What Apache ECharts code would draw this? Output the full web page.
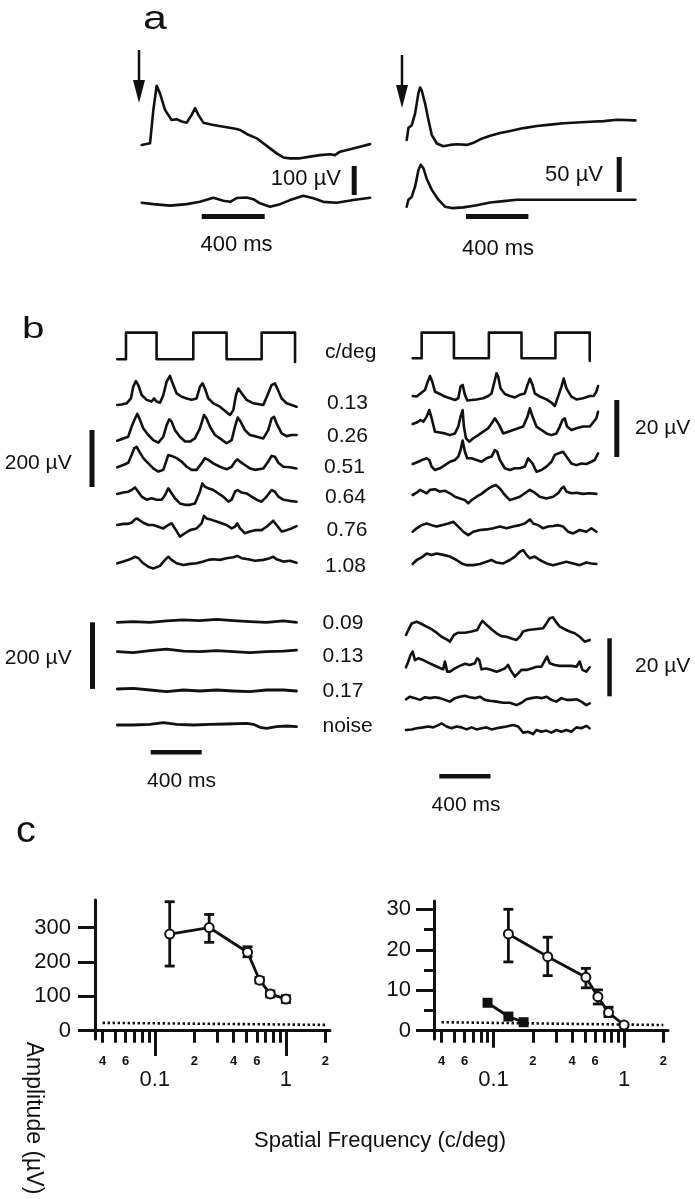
<!DOCTYPE html>
<html><head><meta charset="utf-8">
<script src="https://cdn.jsdelivr.net/npm/echarts@6/dist/echarts.min.js"></script>
<style>html,body{margin:0;padding:0;background:#fff}#c{width:695px;height:1199px}</style>
</head><body><div id="c"></div>
<script>
// ================= DATA (ms, µV) =================
// panel a: flash responses
const aLeftTop = [[0,0],[53,6],[74,121],[95,204],[116,178],[148,121],[190,86],[222,89],[254,81],[286,77],[317,104],[339,127],[360,104],[391,77],[455,69],[540,61],[603,55],[624,52],[667,38],[730,23],[794,-3],[857,-29],[899,-43],[942,-46],[1005,-46],[1069,-40],[1132,-35],[1196,-32],[1227,-35],[1259,-23],[1323,-15],[1386,-6],[1450,3]];
const aLeftBottom = [[0,0],[74,-5],[180,-10],[286,-5],[370,3],[455,17],[518,7],[561,3],[603,16],[667,18],[709,12],[751,-2],[815,-14],[878,-5],[942,9],[1026,24],[1090,15],[1153,3],[1238,0],[1344,9],[1450,17]];
const aRightTop = [[0,0],[11,17],[32,21],[54,38],[75,67],[86,75],[96,71],[118,52],[139,29],[161,7],[193,-5],[235,-9],[278,-7],[321,-6],[385,-7],[428,-4],[471,1],[535,6],[599,10],[663,13],[749,17],[835,20],[920,22],[1006,24],[1091,25],[1177,26],[1263,27],[1348,29],[1466,28]];
const aRightBottom = [[0,0],[11,10],[32,14],[54,29],[75,52],[90,60],[107,55],[128,40],[161,24],[203,10],[246,0],[289,-2],[364,-1],[449,2],[535,6],[621,8],[706,10],[792,10],[877,10],[1091,10],[1348,10],[1466,10]];

// panel b: stimulus (relative luminance) and pattern responses
const stimLeft = [[0,0],[68,0],[68,1],[308,1],[308,0],[596,0],[596,1],[857,1],[857,0],[1132,0],[1132,1],[1394,1],[1394,-0.1]];
const stimRight = [[0,0],[70,0],[70,1],[322,1],[322,0],[595,0],[595,1],[850,1],[850,0],[1115,0],[1115,1],[1383,1],[1383,-0.1]];

const bLeft013 = [[0,0],[34,2],[73,6],[107,23],[125,64],[146,84],[165,70],[191,35],[230,18],[269,12],[288,23],[308,12],[335,8],[361,35],[387,82],[413,102],[434,76],[465,41],[505,29],[544,23],[583,18],[622,23],[648,64],[669,76],[687,58],[714,23],[753,6],[805,-6],[884,-35],[910,-18],[931,35],[949,58],[975,41],[1014,18],[1067,6],[1145,0],[1184,41],[1210,70],[1236,76],[1255,58],[1289,23],[1328,6],[1367,0],[1406,-6]];
const bLeft026 = [[0,0],[47,8],[86,14],[112,49],[139,78],[157,94],[178,73],[204,43],[243,20],[282,2],[322,-7],[361,14],[387,55],[408,75],[426,67],[452,37],[491,14],[531,-3],[570,-3],[609,8],[648,43],[680,90],[700,78],[727,49],[766,20],[805,8],[857,-9],[897,2],[923,49],[944,81],[967,67],[1001,37],[1040,20],[1080,16],[1145,8],[1184,37],[1210,78],[1229,84],[1249,61],[1289,26],[1328,16],[1367,20],[1406,20]];
const bLeft051 = [[0,0],[47,8],[86,16],[112,43],[133,67],[152,72],[173,55],[204,32],[243,14],[282,-4],[322,-15],[361,-9],[387,26],[400,43],[426,40],[465,32],[505,20],[544,2],[583,-9],[622,-9],[661,14],[687,32],[714,26],[753,14],[805,2],[857,-7],[897,2],[923,20],[941,28],[962,20],[1001,8],[1040,-4],[1080,-9],[1145,-4],[1184,20],[1210,40],[1236,37],[1263,16],[1302,2],[1354,0],[1406,-4]];
const bLeft064 = [[0,0],[47,5],[86,8],[112,14],[139,23],[157,12],[191,-9],[230,-20],[269,-15],[308,-20],[348,-20],[374,-4],[400,20],[418,8],[452,-15],[491,-33],[531,-38],[570,-38],[609,-33],[648,8],[667,37],[687,26],[714,20],[753,14],[792,2],[831,-9],[871,-27],[897,-20],[923,8],[944,14],[975,5],[1014,2],[1053,-9],[1093,-20],[1132,-27],[1171,-9],[1210,14],[1236,8],[1263,-9],[1302,-20],[1354,-24],[1406,-27]];
const bLeft076 = [[0,0],[47,4],[86,4],[112,8],[139,20],[157,23],[178,15],[204,8],[243,0],[282,0],[322,-6],[361,-12],[400,0],[426,6],[452,-12],[491,-41],[531,-29],[570,-18],[622,-12],[661,6],[680,32],[700,23],[739,18],[779,12],[818,6],[857,0],[897,-12],[923,-6],[941,6],[962,-12],[1001,-29],[1040,-23],[1080,-18],[1132,-18],[1171,-6],[1202,6],[1223,15],[1249,0],[1289,-23],[1328,-18],[1367,-12],[1406,-4]];
const bLeft108 = [[0,0],[47,6],[99,14],[139,23],[165,18],[204,0],[243,-12],[282,-18],[335,-9],[374,12],[400,23],[426,12],[465,0],[518,-6],[570,-2],[622,0],[675,6],[714,12],[753,14],[805,12],[857,18],[910,21],[941,26],[975,18],[1027,14],[1080,9],[1145,12],[1197,18],[1223,23],[1249,14],[1302,6],[1354,9],[1406,2]];
const bLeftB009 = [[0,0],[125,2],[256,0],[387,4],[518,7],[648,5],[779,9],[910,5],[1040,2],[1171,0],[1302,4],[1406,0]];
const bLeftB013 = [[0,0],[125,-3],[256,3],[387,8],[518,2],[648,0],[779,3],[910,0],[1040,-3],[1171,0],[1302,2],[1406,5]];
const bLeftB017 = [[0,0],[125,2],[256,-3],[387,-8],[518,-3],[648,-6],[779,-3],[910,-6],[1040,-8],[1171,-3],[1302,-3],[1406,-6]];
const bLeftNoise = [[0,0],[125,0],[256,2],[361,7],[465,2],[596,0],[727,2],[857,3],[1014,5],[1067,2],[1119,-7],[1171,-10],[1249,-5],[1328,-3],[1406,-5]];

const bRight1 = [[0,0],[31,-0.2],[70,1.2],[96,2.1],[117,5.0],[135,7.0],[153,5.0],[174,1.5],[213,0.7],[252,-0.2],[291,-0.8],[330,-1.4],[356,-0.8],[374,3.3],[390,3.9],[408,0.4],[426,-1.6],[460,-1.4],[499,-1.2],[551,-0.8],[590,0],[616,0.9],[642,5.6],[655,8.0],[668,6.8],[686,2.7],[720,0.7],[759,0],[798,-0.5],[837,0.4],[876,0.9],[897,3.9],[915,6.1],[936,3.9],[954,0.9],[993,-0.2],[1045,-1.2],[1084,-2.3],[1110,-3.5],[1136,-0.2],[1162,3.3],[1180,6.1],[1201,2.7],[1240,-0.2],[1279,-1.2],[1331,-0.8],[1383,0],[1414,0],[1435,1.5],[1448,3.5]];
const bRight2 = [[0,0],[31,0.5],[62,1.4],[83,0.8],[109,2.6],[130,4.9],[148,2.0],[174,-2.7],[213,-3.0],[252,-3.3],[291,-3.9],[330,-3.3],[356,-0.9],[374,2.6],[390,4.9],[400,-0.9],[416,-5.0],[442,-6.2],[473,-5.0],[512,-3.9],[551,-2.7],[590,-1.5],[616,0.2],[642,2.0],[655,2.6],[676,-0.4],[707,-3.3],[746,-2.7],[785,-2.1],[824,-1.5],[863,-0.9],[897,2.6],[915,5.5],[936,2.6],[967,-0.9],[1006,-2.1],[1045,-3.3],[1084,-3.9],[1123,-3.3],[1149,-0.9],[1170,1.4],[1188,2.0],[1206,-0.9],[1240,-2.1],[1279,-1.5],[1331,-0.9],[1383,-0.9],[1414,0.8],[1435,2.0],[1448,4.3]];
const bRight3 = [[0,0],[44,0.8],[83,1.6],[109,2.0],[130,1.4],[148,-0.9],[174,-2.1],[213,-1.5],[252,-0.4],[291,0.8],[330,1.4],[356,2.6],[374,4.9],[390,8.2],[408,4.3],[426,2.0],[460,2.0],[499,1.4],[538,0.8],[577,2.0],[616,2.6],[642,4.9],[660,4.3],[681,1.4],[720,-1.5],[759,-2.1],[798,-1.5],[837,-1.5],[876,-0.9],[902,2.0],[915,2.6],[936,0.2],[967,-2.7],[1006,-2.1],[1045,-0.9],[1084,0.8],[1110,3.2],[1136,3.7],[1175,4.3],[1201,2.6],[1240,0.2],[1279,-0.4],[1318,0.2],[1357,0],[1396,0.8],[1422,1.4],[1448,3.7]];
const bRight4 = [[0,0],[31,0.8],[57,1.8],[83,1.2],[109,0.6],[135,1.8],[174,2.0],[213,1.2],[252,1.5],[291,0.6],[330,-0.6],[369,-1.2],[408,-1.8],[434,-2.9],[460,-1.8],[499,-0.6],[538,0.4],[577,1.8],[616,2.9],[650,3.5],[681,2.3],[720,0],[759,-1.8],[798,-1.2],[837,-0.6],[876,0.6],[915,1.8],[954,0.8],[993,-0.6],[1045,-1.2],[1097,-0.6],[1136,0.6],[1162,2.3],[1180,2.9],[1201,1.2],[1240,0.6],[1279,0.8],[1331,0.4],[1383,0.6],[1435,0.4]];
const bRight5 = [[0,0],[31,1.2],[70,2.3],[109,2.9],[148,2.3],[187,1.8],[226,2.3],[278,2.9],[317,3.5],[356,1.8],[395,0],[434,-1.2],[473,0],[525,0.6],[577,0.8],[629,1.2],[681,1.8],[733,1.2],[785,1.8],[837,2.3],[876,2.9],[915,4.3],[941,2.9],[980,2.3],[1019,1.2],[1058,1.8],[1097,2.0],[1136,2.3],[1175,1.8],[1214,0],[1253,-0.6],[1305,0.6],[1357,0],[1396,1.2],[1435,0]];
const bRight6 = [[0,0],[31,1.4],[70,2.3],[109,3.7],[148,3.2],[187,3.7],[239,3.2],[291,2.6],[343,1.4],[382,0.2],[421,-0.4],[473,-0.4],[525,0],[577,0.8],[616,1.4],[655,0.5],[707,0.2],[759,1.4],[798,2.6],[837,4.3],[863,4.9],[889,3.2],[915,2.0],[954,2.6],[993,1.4],[1045,0.2],[1097,-0.4],[1149,0.2],[1201,0.8],[1253,0.2],[1305,-0.4],[1357,0.5],[1396,0.2],[1435,0]];
const bRightB009 = [[0,0],[18,1.7],[44,4.0],[83,4.6],[122,3.8],[161,2.9],[200,2.0],[239,0.8],[278,-0.6],[317,-1.5],[343,-2.3],[374,0],[408,0.8],[460,0.8],[512,1.2],[556,1.7],[577,3.5],[598,4.9],[629,3.5],[668,2.0],[707,0.6],[746,-0.4],[785,-0.6],[824,-1.2],[863,-1.7],[889,-0.6],[915,1.2],[954,1.7],[1006,2.0],[1071,2.3],[1097,4.0],[1123,5.8],[1149,6.1],[1170,4.6],[1201,2.9],[1240,2.0],[1279,1.2],[1318,0.6],[1357,-0.6],[1396,-2.3],[1435,-1.7]];
const bRightB013 = [[0,0],[18,2.0],[36,4.3],[52,5.4],[70,2.5],[96,3.1],[135,2.5],[174,1.6],[213,0.8],[252,0],[291,-0.7],[304,2.0],[322,-1.5],[343,-1.5],[382,-0.4],[421,0.5],[460,1.2],[499,0.8],[538,1.4],[556,3.1],[572,2.5],[590,-0.7],[629,-0.4],[668,-0.9],[707,-1.5],[746,-0.9],[772,-0.4],[798,0.8],[816,-0.9],[850,-3.2],[876,-2.1],[902,-0.9],[941,-0.9],[980,-0.4],[1019,0.2],[1058,0.2],[1084,2.3],[1102,3.7],[1123,1.4],[1162,0.8],[1201,0.5],[1240,0.5],[1292,0.5],[1331,0.2],[1357,2.0],[1378,-0.9],[1409,-1.5],[1435,0]];
const bRightB017 = [[0,0],[31,0.9],[70,0.4],[109,-0.2],[148,0.7],[187,0.4],[226,0.7],[265,0.4],[304,-0.2],[343,-0.8],[382,0.4],[421,0.9],[460,1.2],[499,0.7],[538,0.4],[577,0.9],[616,-0.2],[655,-0.5],[707,-0.8],[759,-1.2],[811,-1.2],[863,-2.0],[902,-1.2],[941,0],[980,0.4],[1019,0.7],[1058,0.4],[1097,0.9],[1136,-0.2],[1175,-0.8],[1214,0.4],[1253,-0.2],[1292,-0.2],[1331,0],[1370,-0.8],[1409,-2.0],[1435,-1.4]];
const bRightNoise = [[0,0],[44,0.2],[83,0.6],[135,0.9],[174,1.2],[213,0.9],[252,1.7],[278,2.3],[317,1.2],[356,0.6],[395,1.2],[434,0.9],[473,0.2],[512,0.9],[551,0.2],[590,0.6],[629,0.9],[668,0.2],[707,0.6],[746,0.9],[785,1.2],[837,1.7],[876,1.2],[915,-0.9],[954,-0.6],[993,-1.4],[1019,0],[1058,-0.6],[1097,-0.2],[1136,-0.9],[1175,0],[1214,-0.6],[1253,0],[1292,-0.6],[1331,0.9],[1370,0.6],[1409,1.4],[1435,0.6]];

const labelsUpper = ['0.13','0.26','0.51','0.64','0.76','1.08'];
const labelsLower = ['0.09','0.13','0.17','noise'];

// panel c: spatial-frequency tuning (c/deg, µV)
const freqLeft = [0.13, 0.26, 0.51, 0.63, 0.76, 1.0];
const ampLeft = [281, 300, 228, 147, 107, 92];
const errLoLeft = [188, 257, 215, 139, 98, 82];
const errHiLeft = [375, 338, 244, 155, 116, 102];
const noiseLeft = [[0.04, 23], [2.0, 17]];

const freqRight = [0.13, 0.26, 0.51, 0.63, 0.76, 1.0];
const ampRight = [23.9, 18.3, 13.2, 8.4, 4.5, 1.4];
const errLoRight = [17.0, 13.6, 10.6, 6.6, 3.5, 1.0];
const errHiRight = [30.0, 23.1, 15.4, 10.1, 5.8, 1.8];
const freqRightFilled = [0.09, 0.13, 0.17];
const ampRightFilled = [6.9, 3.5, 2.1];
const noiseRight = [[0.04, 2.1], [2.0, 1.4]];

const yTicksLeftMajor = [0, 100, 200, 300];
const yTicksRightMajor = [0, 10, 20, 30];
const yTicksRightMinor = [5, 15, 25];
const xTicksMajor = [0.1, 1];
const xTicksAll = [0.04,0.05,0.06,0.07,0.08,0.09,0.1,0.2,0.3,0.4,0.5,0.6,0.7,0.8,0.9,1,2];
const xLabelsMinor = [0.04, 0.06, 0.2, 0.4, 0.6, 2];

// ================= LAYOUT =================
const INK = '#111';
const FONT = '"Liberation Sans", Arial, Helvetica, sans-serif';
const grids = [], xAxes = [], yAxes = [], series = [], graphics = [];

function addTrace(data, x0, y0, pxPerMs, pxPerUnit, lw) {
  const gi = grids.length;
  const vals = data.map(d => d[1]);
  const pad = 2 / pxPerUnit;
  const vMax = Math.max(...vals) + pad, vMin = Math.min(...vals) - pad;
  const tMax = Math.max(...data.map(d => d[0]));
  grids.push({left: x0, top: y0 - vMax * pxPerUnit, width: tMax * pxPerMs, height: (vMax - vMin) * pxPerUnit, show: false, containLabel: false});
  xAxes.push({gridIndex: gi, type: 'value', min: 0, max: tMax, show: false});
  yAxes.push({gridIndex: gi, type: 'value', min: vMin, max: vMax, show: false});
  series.push({type: 'line', xAxisIndex: gi, yAxisIndex: gi, data: data, symbol: 'none', clip: false, silent: true,
    lineStyle: {color: INK, width: lw || 2.6, join: 'round', cap: 'round'}});
}
function txt(t, x, y, size, align, extra) {
  graphics.push(Object.assign({type: 'text', x: x, y: y, silent: true,
    style: {text: t, font: (size) + 'px ' + FONT, fill: INK, textAlign: align || 'left', textVerticalAlign: 'middle'}}, extra || {}));
}
function bar(x, y, w, h) {
  graphics.push({type: 'rect', silent: true, shape: {x: x, y: y, width: w, height: h}, style: {fill: INK}});
}
function arrow(x, yTop, yTip) {
  graphics.push({type: 'line', silent: true, shape: {x1: x, y1: yTop, x2: x, y2: yTip - 18}, style: {stroke: INK, lineWidth: 2.5}});
  graphics.push({type: 'polygon', silent: true, shape: {points: [[x - 6, yTip - 23], [x + 6, yTip - 23], [x, yTip]]}, style: {fill: INK}});
}

// --- panel a ---
const A = {lx0: 141.7, lpxT: 0.1575, lpxV: 0.29, rx0: 406.7, rpxT: 0.156, rpxV: 0.70};
addTrace(aLeftTop, A.lx0, 145, A.lpxT, A.lpxV);
addTrace(aLeftBottom, A.lx0, 202.7, A.lpxT, A.lpxV);
addTrace(aRightTop, A.rx0, 140, A.rpxT, A.rpxV);
addTrace(aRightBottom, A.rx0, 206.7, A.rpxT, A.rpxV);
arrow(139, 50, 103);
arrow(402, 55, 108);
bar(351.7, 166, 5, 100 * A.lpxV);
bar(201.7, 214, 400 * A.lpxT, 5);
bar(616.7, 157, 5, 50 * A.rpxV);
bar(466, 214, 400 * A.rpxT, 5);
txt('100 µV', 341, 179, 22, 'right');
txt('50 µV', 603, 175, 22, 'right');
txt('400 ms', 236.5, 245, 22, 'center');
txt('400 ms', 498, 249, 22, 'center');
txt('a', 143, 20, 33, 'left', {scaleX: 1.3});

// --- panel b ---
const B = {lx0: 117.3, lpxT: 0.1275, lpxV: 0.285, lpxV2: 0.333, rx0: 412.7, rx02: 406, rpxT: 0.128, rpxV: 2.85, rpxV2: 2.9};
addTrace(stimLeft, B.lx0, 359.3, B.lpxT, 26.7);
addTrace(stimRight, B.rx0, 358.3, B.rpxT, 25.7);
const upperL = [bLeft013, bLeft026, bLeft051, bLeft064, bLeft076, bLeft108];
const upperLY = [405, 440.7, 467.3, 494, 525, 563.3];
upperL.forEach((d, i) => addTrace(d, B.lx0, upperLY[i], B.lpxT, B.lpxV));
const lowerL = [bLeftB009, bLeftB013, bLeftB017, bLeftNoise];
const lowerLY = [622.3, 651.7, 689, 725];
lowerL.forEach((d, i) => addTrace(d, B.lx0, lowerLY[i], B.lpxT, B.lpxV2, 2.8));
const upperR = [bRight1, bRight2, bRight3, bRight4, bRight5, bRight6];
const upperRY = [396, 424, 464, 495, 531.7, 564];
upperR.forEach((d, i) => addTrace(d, B.rx0, upperRY[i], B.rpxT, B.rpxV));
const lowerR = [bRightB009, bRightB013, bRightB017, bRightNoise];
const lowerRY = [635, 667.3, 699.3, 730];
lowerR.forEach((d, i) => addTrace(d, B.rx02, lowerRY[i], B.rpxT, B.rpxV2));

txt('b', 22, 330, 30, 'left', {scaleX: 1.35});
txt('c/deg', 325, 352, 21, 'left');
const labUY = [403, 436, 467, 497.5, 530, 566];
const labUX = [327, 327, 324, 325, 326.5, 325];
labelsUpper.forEach((t, i) => txt(t, labUX[i], labUY[i], 21, 'left'));
const labLY = [623.3, 656.7, 691.7, 726.7];
labelsLower.forEach((t, i) => txt(t, 322.5, labLY[i], 21, 'left'));
bar(89.5, 430, 5, 200 * B.lpxV);
bar(90, 622.3, 5, 200 * B.lpxV2);
txt('200 µV', 71.7, 463, 21, 'right');
txt('200 µV', 71.7, 658, 21, 'right');
bar(150.7, 750, 400 * B.lpxT, 4.5);
txt('400 ms', 181.5, 781.7, 21, 'center');
bar(614.3, 400, 5, 20 * B.rpxV);
bar(607.3, 638.3, 4.5, 20 * B.rpxV2);
txt('20 µV', 635, 428, 21, 'left');
txt('20 µV', 635, 666, 21, 'left');
bar(439.3, 774, 400 * B.rpxT, 4.5);
txt('400 ms', 466, 805, 21, 'center');

// --- panel c ---
txt('c', 16, 832, 36, 'left', {scaleX: 1.1});
const cGridL = grids.length;
grids.push({left: 95, top: 900, width: 235, height: 139, show: false, containLabel: false});
const cGridR = grids.length;
grids.push({left: 434, top: 901, width: 234, height: 138, show: false, containLabel: false});

function minorFmt(v) { const e = Math.floor(Math.log10(v) + 1e-9); return String(Math.round(v / Math.pow(10, e))); }
function addLogX(gi) {
  const main = xAxes.length;
  // axis line + all short ticks + small mantissa labels
  xAxes.push({gridIndex: gi, type: 'log', logBase: 10, min: 0.035, max: 2.17, position: 'bottom',
    axisLine: {show: true, lineStyle: {color: INK, width: 3}},
    axisTick: {show: true, inside: false, length: 12, customValues: xTicksAll, lineStyle: {color: INK, width: 3}},
    axisLabel: {show: true, customValues: xLabelsMinor, margin: 16, color: INK, fontSize: 13, fontWeight: 'bold', fontFamily: FONT, formatter: minorFmt},
    splitLine: {show: false}, minorTick: {show: false}});
  // longer decade ticks + decade labels
  xAxes.push({gridIndex: gi, type: 'log', logBase: 10, min: 0.035, max: 2.17, position: 'bottom',
    axisLine: {show: false},
    axisTick: {show: true, inside: false, length: 17, customValues: xTicksMajor, lineStyle: {color: INK, width: 3}},
    axisLabel: {show: true, customValues: xTicksMajor, margin: 30, color: INK, fontSize: 22, fontFamily: FONT, formatter: v => (v < 0.5 ? '0.1' : '1')},
    splitLine: {show: false}});
  return main;
}
const xL = addLogX(cGridL);
const xR = addLogX(cGridR);

const yL = yAxes.length;
yAxes.push({gridIndex: cGridL, type: 'value', min: -24, max: 380, position: 'left',
  axisLine: {show: true, lineStyle: {color: INK, width: 3}},
  axisTick: {show: true, inside: false, length: 17, customValues: yTicksLeftMajor, lineStyle: {color: INK, width: 3}},
  axisLabel: {show: true, customValues: yTicksLeftMajor, margin: 24, color: INK, fontSize: 22, fontFamily: FONT},
  splitLine: {show: false}});
const yR = yAxes.length;
yAxes.push({gridIndex: cGridR, type: 'value', min: -2.05, max: 32.05, position: 'left',
  axisLine: {show: true, lineStyle: {color: INK, width: 3}},
  axisTick: {show: true, inside: false, length: 18, customValues: yTicksRightMajor, lineStyle: {color: INK, width: 3}},
  axisLabel: {show: true, customValues: yTicksRightMajor, margin: 23, color: INK, fontSize: 22, fontFamily: FONT},
  splitLine: {show: false}});
yAxes.push({gridIndex: cGridR, type: 'value', min: -2.05, max: 32.05, position: 'left',
  axisLine: {show: false},
  axisTick: {show: true, inside: false, length: 10, customValues: yTicksRightMinor, lineStyle: {color: INK, width: 3}},
  axisLabel: {show: false}, splitLine: {show: false}});

function errBars(xi, yi, f, lo, hi) {
  series.push({type: 'custom', xAxisIndex: xi, yAxisIndex: yi, z: 2, silent: true, clip: false,
    data: f.map((v, i) => [v, lo[i], hi[i]]), encode: {x: 0, y: [1, 2]},
    renderItem: function (params, api) {
      const p1 = api.coord([api.value(0), api.value(1)]);
      const p2 = api.coord([api.value(0), api.value(2)]);
      const w = 5, st = {stroke: INK, lineWidth: 2.8};
      return {type: 'group', children: [
        {type: 'line', shape: {x1: p1[0], y1: p1[1], x2: p2[0], y2: p2[1]}, style: st},
        {type: 'line', shape: {x1: p1[0] - w, y1: p1[1], x2: p1[0] + w, y2: p1[1]}, style: st},
        {type: 'line', shape: {x1: p2[0] - w, y1: p2[1], x2: p2[0] + w, y2: p2[1]}, style: st}]};
    }});
}
function openLine(xi, yi, f, a) {
  series.push({type: 'line', xAxisIndex: xi, yAxisIndex: yi, z: 3, silent: true, clip: false,
    data: f.map((v, i) => [v, a[i]]), symbol: 'circle', symbolSize: 9, showSymbol: true,
    lineStyle: {color: INK, width: 2.8}, itemStyle: {color: '#fff', borderColor: INK, borderWidth: 2}});
}
function dotted(xi, yi, d) {
  series.push({type: 'line', xAxisIndex: xi, yAxisIndex: yi, z: 1, silent: true, data: d, symbol: 'none',
    lineStyle: {color: INK, width: 2.6, type: [2.4, 2.6]}});
}
dotted(xL, yL, noiseLeft);
errBars(xL, yL, freqLeft, errLoLeft, errHiLeft);
openLine(xL, yL, freqLeft, ampLeft);
dotted(xR, yR, noiseRight);
errBars(xR, yR, freqRight, errLoRight, errHiRight);
openLine(xR, yR, freqRight, ampRight);
series.push({type: 'line', xAxisIndex: xR, yAxisIndex: yR, z: 3, silent: true, clip: false,
  data: freqRightFilled.map((v, i) => [v, ampRightFilled[i]]), symbol: 'rect', symbolSize: 10, showSymbol: true,
  lineStyle: {color: INK, width: 2.8}, itemStyle: {color: INK}});

txt('Spatial Frequency (c/deg)', 380, 1141, 22, 'center');
txt('Amplitude (µV)', 33, 1118, 23, 'center', {rotation: -Math.PI / 2});

const chart = echarts.init(document.getElementById('c'), null, {renderer: 'canvas', width: 695, height: 1199});
chart.setOption({
  backgroundColor: '#fff', animation: false,
  grid: grids, xAxis: xAxes, yAxis: yAxes, series: series,
  graphic: {elements: graphics}
});
</script></body></html>
